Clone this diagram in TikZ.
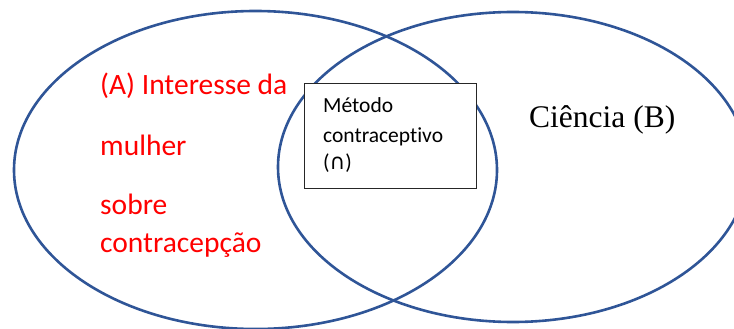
\documentclass[tikz,border=0pt]{standalone}
\usepackage{fontspec}
\setmainfont{Carlito}[Ligatures={NoCommon}]
\newfontfamily\serifB{Liberation Serif}
\newfontfamily\symfont{DejaVu Sans}
\usepackage{tikz}
\usetikzlibrary{shapes.geometric, positioning}

\definecolor{setblue}{HTML}{2F5597}

\begin{document}
\begin{tikzpicture}[x=1pt, y=-1pt,
        setellipse/.style={ellipse, draw=setblue, line width=2.6pt, inner sep=0pt},
        interbox/.style={rectangle, draw=black!85, fill=white, line width=0.9pt, inner sep=0pt, minimum width=172pt, minimum height=105pt},
        redtext/.style={anchor=base west, inner sep=0pt, text=red, font=\fontsize{29.5}{34}\selectfont},
        boxtext/.style={anchor=base west, inner sep=0pt, font=\fontsize{21.5}{26}\selectfont}
    ]
        \useasboundingbox (0,0) rectangle (734,329);
        \clip (0,0) rectangle (734,329);

        % Sets
        \node[setellipse, minimum width=483pt, minimum height=318pt] (setA) at (255.5,170) {};
        \node[setellipse, minimum width=470pt, minimum height=310pt] (setB) at (513,167) {};

        % Intersection
        \node[interbox, anchor=north west] (inter) at (304,83) {};
        \node[boxtext] (met) at (323,113) {Método};
        \node[boxtext] (contra) at (323,142) {contraceptivo};
        \node[boxtext] (cap) at (323,169) {({\symfont ∩})};

        % Labels
        \node[redtext] (la1) at (100,95) {(A) Interesse da};
        \node[redtext] (la2) at (100,155) {mulher};
        \node[redtext] (la3) at (100,214) {sobre};
        \node[redtext] (la4) at (100,252) {contracepção};
        \node[anchor=base west, inner sep=0pt, font=\serifB\fontsize{31.5}{36}\selectfont] (lb) at (529,127) {Ciência (B)};

    \end{tikzpicture}
\end{document}
